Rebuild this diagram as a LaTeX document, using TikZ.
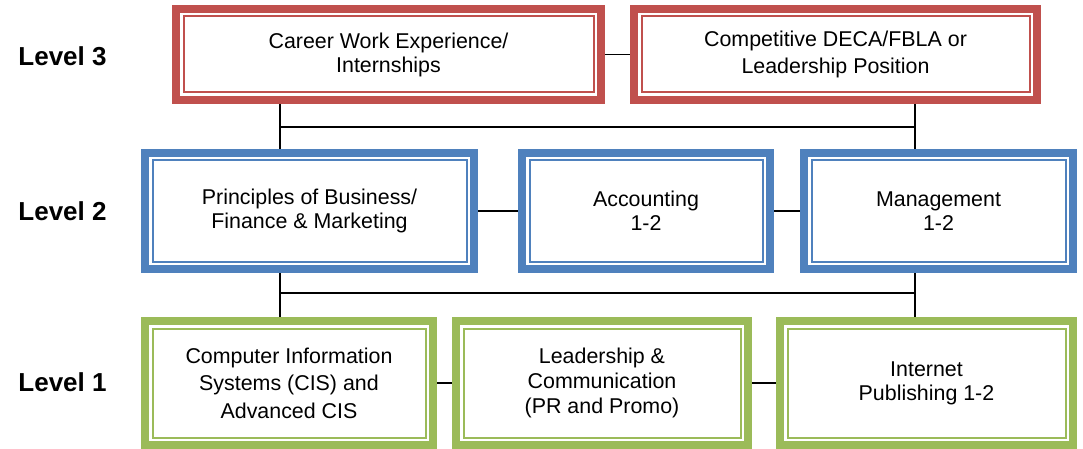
\documentclass[tikz,border=0pt]{standalone}
\usepackage{fontspec}
\setmainfont{Liberation Sans}
\usepackage{xcolor}
\usepackage{tikz}

\definecolor{lvred}{HTML}{C0504D}
\definecolor{lvblue}{HTML}{4F81BD}
\definecolor{lvgreen}{HTML}{9BBB59}

\tikzset{
    course/.style={draw=#1, line width=8pt, fill=white, inner sep=0pt, align=center,
        font=\fontsize{21.4}{24}\selectfont,
        path picture={\draw[#1, line width=2pt]
            ([shift={(7.5pt,-7.5pt)}]path picture bounding box.north west) rectangle
            ([shift={(-7.5pt,7.5pt)}]path picture bounding box.south east);}},
    level/.style={font=\fontsize{26}{30}\selectfont\bfseries},
    link/.style={line width=1.4pt, black}
}

\begin{document}
\begin{tikzpicture}[x=1pt,y=-1pt]
                \useasboundingbox (0,0) rectangle (1083,449);

                \node[level] (lv3) at (62.5,56) {Level 3};
                \node[level] (lv2) at (62.5,211) {Level 2};
                \node[level] (lv1) at (62.5,382) {Level 1};

                \node[course=lvred, minimum width=425pt, minimum height=91pt] (career) at (388.5,54.5) {Career Work Experience/\\Internships};
                \node[course=lvred, minimum width=403pt, minimum height=91pt] (compete) at (835.5,54.5) {Competitive DECA/FBLA or\\[3.5pt]Leadership Position};

                \node[course=lvblue, minimum width=329pt, minimum height=116pt] (business) at (309.5,211) {Principles of Business/\\Finance \& Marketing};
                \node[course=lvblue, minimum width=248pt, minimum height=116pt] (accounting) at (646,211) {Accounting\\1-2};
                \node[course=lvblue, minimum width=269pt, minimum height=116pt] (management) at (938.5,211) {Management\\1-2};

                \node[course=lvgreen, minimum width=288pt, minimum height=124pt] (cis) at (289,383) {Computer Information\\[3.5pt]Systems (CIS) and\\[3.5pt]Advanced CIS};
                \node[course=lvgreen, minimum width=292pt, minimum height=124pt] (leadership) at (602,383) {Leadership \&\\[1pt]Communication\\[1pt](PR and Promo)};
                \node[course=lvgreen, minimum width=293pt, minimum height=124pt] (internet) at (926.5,383) {Internet\\Publishing 1-2};

                \coordinate (top l) at (280,127);
                \coordinate (top r) at (915,127);
                \coordinate (mid l) at (280,293);
                \coordinate (mid r) at (915,293);

                \draw[link] (career) -- (compete);
                \draw[link] (business) -- (accounting);
                \draw[link] (accounting) -- (management);
                \draw[link] (cis) -- (leadership);
                \draw[link] (leadership) -- (internet);

                \draw[link] (career.south -| top l) -- (business.north -| top l);
                \draw[link] (compete.south -| top r) -- (management.north -| top r);
                \draw[link] (top l) -- (top r);

                \draw[link] (business.south -| mid l) -- (cis.north -| mid l);
                \draw[link] (management.south -| mid r) -- (internet.north -| mid r);
                \draw[link] (mid l) -- (mid r);
            \end{tikzpicture}
\end{document}
